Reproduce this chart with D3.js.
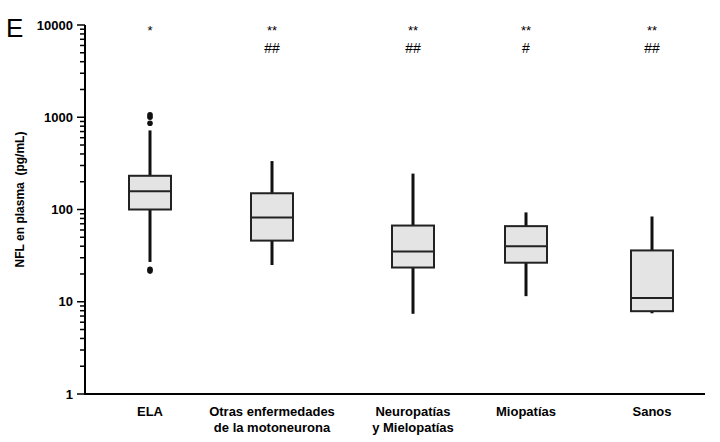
<!DOCTYPE html>
<html><head><meta charset="utf-8">
<script src="https://cdn.jsdelivr.net/npm/d3@7"></script>
<style>body{margin:0;background:#fff}</style>
</head><body>
<svg id="c" width="720" height="442"></svg>
<script>
const groups = [["ELA"], ["Otras enfermedades", "de la motoneurona"], ["Neuropatías", "y Mielopatías"], ["Miopatías"], ["Sanos"]];
const whiskerLow = [27, 25, 7.4, 11.5, 7.5];
const q1 = [100, 46, 23.5, 26.5, 7.9];
const median = [158, 82, 35, 40, 11];
const q3 = [232, 150, 67, 66, 36];
const whiskerHigh = [720, 335, 245, 93, 84];
const outliers = [[1060, 1000, 860, 22.5, 21.5], [], [], [], []];
const starMarks = ["*", "**", "**", "**", "**"];
const hashMarks = ["", "##", "##", "#", "##"];
const yTicks = [1, 10, 100, 1000, 10000];

const svg = d3.select("#c");
const mLeft = 85, mRight = 705, mTop = 25, mBottom = 394;
const y = d3.scaleLog().domain([1, 10000]).range([mBottom, mTop]);
const xc = d3.scaleOrdinal().domain(d3.range(5)).range([150, 272, 413, 526, 652]);
const bw = 42;
const font = "Liberation Sans, Arial";

// y axis
const ga = svg.append("g").attr("transform", `translate(${mLeft},0)`);
ga.append("line").attr("y1", mTop).attr("y2", mBottom).attr("stroke", "#000").attr("stroke-width", 2);
const allTicks = d3.range(0, 4).flatMap(e => d3.range(1, 10).map(m => m * 10 ** e)).concat([10000]);
ga.selectAll(".t").data(allTicks).join("line")
  .attr("x1", d => yTicks.includes(d) ? -8 : -5).attr("x2", 0)
  .attr("y1", d => y(d)).attr("y2", d => y(d)).attr("stroke", "#000").attr("stroke-width", 1.5);
ga.selectAll(".l").data(yTicks).join("text")
  .attr("x", -12).attr("y", d => y(d)).attr("dy", "0.35em").attr("text-anchor", "end")
  .attr("font-family", font).attr("font-weight", "bold").attr("font-size", 13).text(d => d);
// x axis
svg.append("line").attr("x1", mLeft - 1).attr("x2", mRight).attr("y1", mBottom).attr("y2", mBottom).attr("stroke", "#000").attr("stroke-width", 2);

svg.append("text").attr("x", 6).attr("y", 37).attr("font-family", font).attr("font-size", 26).text("E");
svg.append("text").attr("transform", `translate(24,${(mTop + mBottom) / 2 - 10}) rotate(-90)`).attr("text-anchor", "middle")
  .attr("font-family", font).attr("font-weight", "bold").attr("font-size", 12).style("white-space", "pre")
  .text("NFL en plasma  (pg/mL)");

const g = svg.selectAll(".box").data(groups).join("g");
g.append("line").attr("x1", (d, i) => xc(i)).attr("x2", (d, i) => xc(i))
  .attr("y1", (d, i) => y(whiskerLow[i])).attr("y2", (d, i) => y(whiskerHigh[i])).attr("stroke", "#111").attr("stroke-width", 3);
g.append("rect").attr("x", (d, i) => xc(i) - bw / 2).attr("width", bw)
  .attr("y", (d, i) => y(q3[i])).attr("height", (d, i) => y(q1[i]) - y(q3[i]))
  .attr("fill", "#e4e4e4").attr("stroke", "#222").attr("stroke-width", 2);
g.append("line").attr("x1", (d, i) => xc(i) - bw / 2).attr("x2", (d, i) => xc(i) + bw / 2)
  .attr("y1", (d, i) => y(median[i])).attr("y2", (d, i) => y(median[i])).attr("stroke", "#222").attr("stroke-width", 2);
g.each(function (d, i) {
  d3.select(this).selectAll("circle").data(outliers[i]).join("circle")
    .attr("cx", xc(i)).attr("cy", v => y(v)).attr("r", 2.8).attr("fill", "#111");
});
g.append("text").attr("x", (d, i) => xc(i)).attr("y", 35).attr("text-anchor", "middle")
  .attr("font-family", font).attr("font-size", 13).text((d, i) => starMarks[i]);
g.append("text").attr("x", (d, i) => xc(i)).attr("y", 53).attr("text-anchor", "middle")
  .attr("font-family", font).attr("font-size", 14).text((d, i) => hashMarks[i]);
g.append("text").attr("text-anchor", "middle").attr("font-family", font).attr("font-weight", "bold").attr("font-size", 13)
  .selectAll("tspan").data((d, i) => d.map(s => [s, i])).join("tspan")
  .attr("x", d => xc(d[1])).attr("y", (d, j) => 416 + j * 16).text(d => d[0]);
</script>
</body></html>
